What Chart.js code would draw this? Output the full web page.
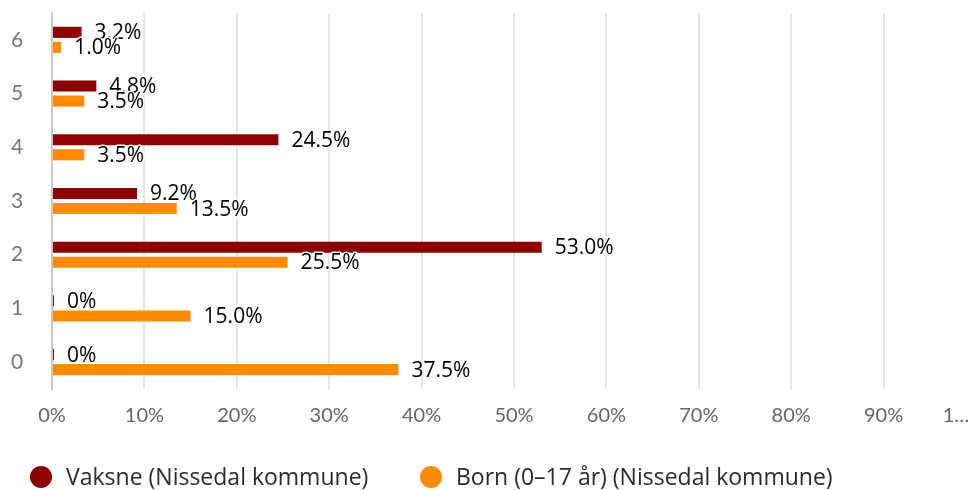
<!DOCTYPE html>
<html>
<head>
<meta charset="utf-8">
<script src="https://cdn.jsdelivr.net/npm/chart.js@4"></script>
<style>
  html, body { margin: 0; padding: 0; background: #fff; overflow: hidden; }
  #wrap { width: 1025px; height: 490px; position: relative; }
</style>
</head>
<body>
<div id="wrap"><canvas id="chart"></canvas></div>
<script>
// categories top to bottom
const categories = ["6", "5", "4", "3", "2", "1", "0"];
const vaksne = [3.2, 4.8, 24.5, 9.2, 53.0, 0, 0];
const born = [1.0, 3.5, 3.5, 13.5, 25.5, 15.0, 37.5];
const xTicks = [0, 10, 20, 30, 40, 50, 60, 70, 80, 90, 100];
const seriesNames = ["Vaksne (Nissedal kommune)", "Born (0\u201317 år) (Nissedal kommune)"];
const seriesColors = ["#8b0000", "#ff8c00"];

function fmt(v) {
  return v === 0 ? "0%" : v.toFixed(1) + "%";
}

// value labels at the end of each bar
const valueLabels = {
  id: "valueLabels",
  afterDatasetsDraw(chart) {
    const ctx = chart.ctx;
    ctx.save();
    ctx.font = "500 21px 'Open Sans'";
    ctx.textAlign = "left";
    ctx.textBaseline = "middle";
    ctx.lineJoin = "round";
    chart.data.datasets.forEach((ds, i) => {
      chart.getDatasetMeta(i).data.forEach((bar, j) => {
        const txt = fmt(ds.data[j]);
        const x = bar.x + 13;
        const y = bar.y + 1;
        ctx.strokeStyle = "rgba(255,255,255,0.9)";
        ctx.lineWidth = 3;
        ctx.strokeText(txt, x, y);
        ctx.fillStyle = "#000";
        ctx.fillText(txt, x, y);
      });
    });
    ctx.restore();
  }
};

// legend drawn at fixed spots
const fixedLegend = {
  id: "fixedLegend",
  afterDraw(chart) {
    const ctx = chart.ctx;
    const spots = [41, 431];
    ctx.save();
    ctx.font = "500 23px 'Open Sans'";
    ctx.textBaseline = "middle";
    chart.data.datasets.forEach((ds, i) => {
      const cx = spots[i];
      ctx.fillStyle = ds.backgroundColor;
      ctx.beginPath();
      ctx.arc(cx, 477, 11, 0, Math.PI * 2);
      ctx.fill();
      ctx.fillStyle = "#2b2b2b";
      ctx.fillText(ds.label, cx + 25, 478);
    });
    ctx.restore();
  }
};

new Chart(document.getElementById("chart"), {
  type: "bar",
  data: {
    labels: categories,
    datasets: [
      { label: seriesNames[0], data: vaksne, backgroundColor: seriesColors[0], minBarLength: 2 },
      { label: seriesNames[1], data: born, backgroundColor: seriesColors[1], minBarLength: 2 }
    ]
  },
  options: {
    indexAxis: "y",
    responsive: true,
    maintainAspectRatio: false,
    animation: false,
    categoryPercentage: 0.56,
    barPercentage: 0.74,
    layout: { padding: { top: 13, right: 49, bottom: 51, left: 11 } },
    scales: {
      x: {
        min: 0,
        max: 100,
        afterBuildTicks: scale => { scale.ticks = xTicks.map(v => ({ value: v })); },
        afterFit: scale => { scale.height = 50; },
        grid: { color: "#e6e6e6", lineWidth: 2, drawTicks: false },
        border: { display: false },
        ticks: {
          padding: 15,
          color: "#666",
          font: { family: "Lato", size: 20 },
          maxRotation: 0,
          autoSkip: false,
          callback: v => v === 100 ? "1\u2026\u2002\u2002\u2002\u2002" : v + "%"
        }
      },
      y: {
        afterFit: scale => { scale.width = 41; },
        grid: { display: false, drawTicks: false },
        border: { display: true, color: "#c8c8c8", width: 2 },
        ticks: {
          padding: 0,
          crossAlign: "far",
          color: "#777",
          font: { family: "Lato", size: 21 }
        }
      }
    },
    plugins: {
      legend: { display: false },
      tooltip: { enabled: false }
    }
  },
  plugins: [valueLabels, fixedLegend]
});
</script>
</body>
</html>
